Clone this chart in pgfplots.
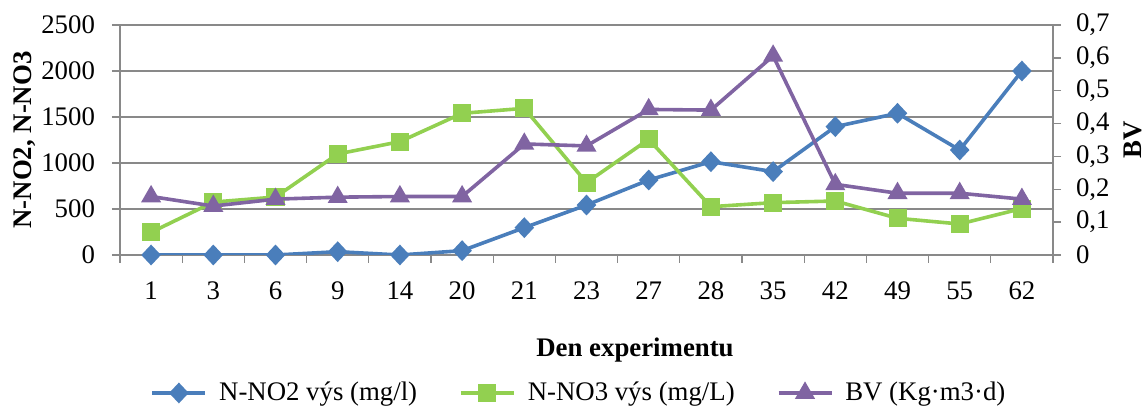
\documentclass[border=0pt]{standalone}
\usepackage{fontspec}
\setmainfont{Liberation Serif}
\usepackage{pgfplots}
\pgfplotsset{compat=1.18}

\definecolor{no2}{HTML}{4A7EBB}
\definecolor{no3}{HTML}{92D050}
\definecolor{bv}{HTML}{8064A2}
\definecolor{gridgray}{HTML}{898989}

\pgfplotsset{
  base/.style={
    scale only axis, width=466.5pt, height=115pt,
    at={(0pt,0pt)}, anchor=south west,
    xmin=-0.5, xmax=14.5,
    font=\fontsize{13.4}{16}\selectfont,
    tick align=outside,
    major tick length=4pt,
    tick style={gridgray, line width=0.65pt},
    axis line style={gridgray, line width=0.65pt},
    /pgf/number format/assume math mode=true,
  },
  no2line/.style={no2, line width=1.8pt, mark=diamond*, mark size=3.9pt,
    mark options={solid, xscale=1.25}},
  no3line/.style={no3, line width=1.8pt, mark=square*, mark size=3.6pt,
    mark options={solid}},
  bvline/.style={bv, line width=1.8pt, mark=triangle*, mark size=4pt,
    mark options={solid}},
}

\begin{document}
\begin{tikzpicture}
\path[use as bounding box] (-60pt,-77.5pt) rectangle (512.5pt,127.5pt);

% left axis: nitrite and nitrate
\begin{axis}[base,
  ymin=0, ymax=2500, ytick={0,500,1000,1500,2000,2500},
  ymajorgrids, grid style={gridgray, line width=0.65pt},
  ytick pos=left, xtick pos=bottom,
  xtick={-0.5,0.5,...,14.5},
  x tick label as interval,
  xticklabels={1,3,6,9,14,20,21,23,27,28,35,42,49,55,62},
  xticklabel style={yshift=-6pt},
  yticklabel style={/pgf/number format/1000 sep={}, xshift=-5pt},
  every axis y label/.style={at={(axis description cs:-0.1018,0.5)}, rotate=90, anchor=center},
  every axis x label/.style={at={(axis description cs:0.552,-0.413)}, anchor=center},
  ylabel={\textbf{N-NO2, N-NO3}},
  xlabel={\textbf{Den experimentu}},
]
\addplot[no2line] coordinates {
  (0,0) (1,0) (2,0) (3,36) (4,0) (5,47) (6,297) (7,543)
  (8,815) (9,1014) (10,906) (11,1395) (12,1540) (13,1141) (14,2000)};
\addplot[no3line] coordinates {
  (0,246) (1,575) (2,630) (3,1098) (4,1232) (5,1540) (6,1594) (7,786)
  (8,1257) (9,525) (10,569) (11,587) (12,399) (13,337) (14,505)};
\end{axis}

% right axis: BV
\begin{axis}[base,
  ymin=0, ymax=0.7, ytick={0,0.1,0.2,0.3,0.4,0.5,0.6,0.7},
  axis x line=none, axis y line*=right,
  y axis line style={draw=none},
  yticklabel style={/pgf/number format/.cd, fixed, precision=1, use comma, /tikz/.cd, xshift=4pt},
  every axis y label/.style={at={(axis description cs:1.0858,0.5)}, rotate=90, anchor=center},
  ylabel={\textbf{BV}},
  legend columns=3,
  legend style={draw=none, fill=none, at={(axis description cs:0.493,-0.600)}, anchor=center,
    font=\fontsize{13.4}{16}\selectfont,
    /tikz/every even column/.append style={column sep=19pt},
    /tikz/every odd column/.append style={column sep=4pt}},
  legend image code/.code={\draw[mark repeat=2, mark phase=2]
    plot coordinates {(0pt,0pt) (13.25pt,0pt) (26.5pt,0pt)};},
]
\addlegendimage{no2line}
\addlegendentry{N-NO2 výs (mg/l)}
\addlegendimage{no3line}
\addlegendentry{N-NO3 výs (mg/L)}
\addplot[bvline] coordinates {
  (0,0.178) (1,0.149) (2,0.170) (3,0.176) (4,0.178) (5,0.178) (6,0.338) (7,0.332)
  (8,0.443) (9,0.441) (10,0.606) (11,0.215) (12,0.188) (13,0.188) (14,0.170)};
\addlegendentry{BV (Kg·m3·d)}
\end{axis}
\end{tikzpicture}
\end{document}
